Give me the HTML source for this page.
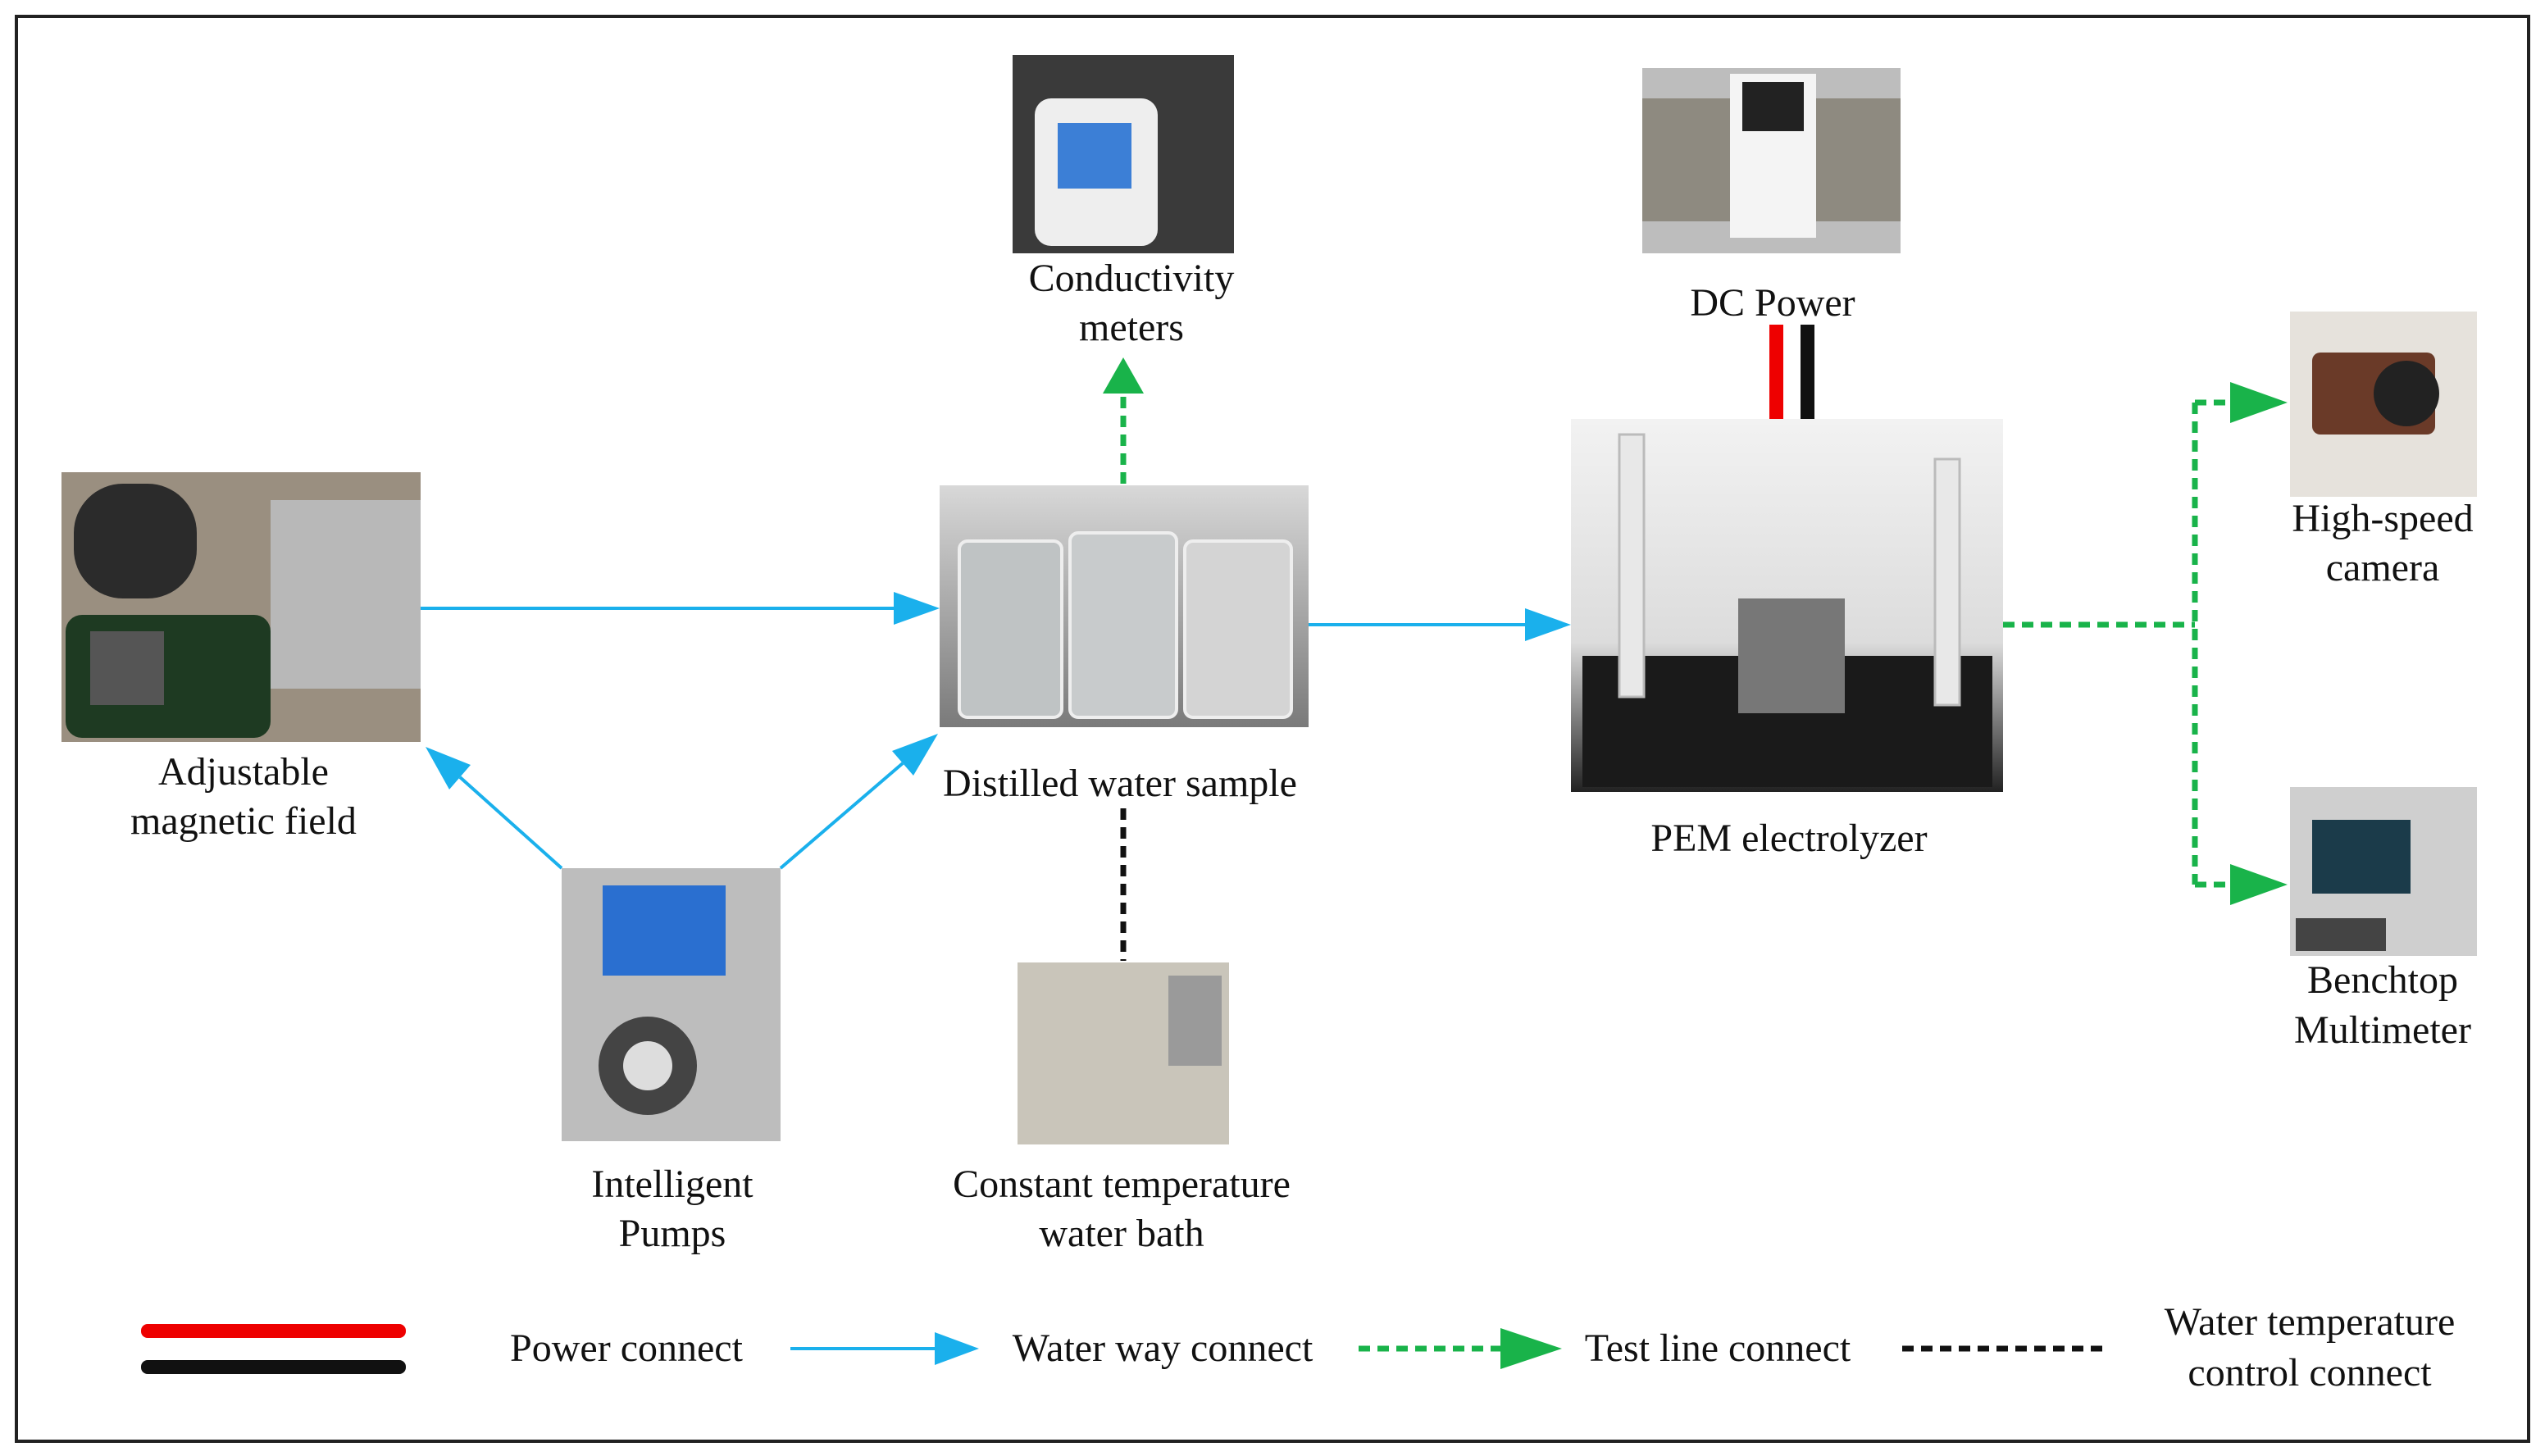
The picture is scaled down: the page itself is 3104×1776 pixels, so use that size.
<!DOCTYPE html>
<html><head><meta charset="utf-8"><style>
html,body{margin:0;padding:0;background:#fff;}
svg{display:block;}
text{font-family:"Liberation Serif",serif;font-size:48px;fill:#111;text-anchor:middle;}
</style></head><body>
<svg width="3104" height="1776" viewBox="0 0 3104 1776" xmlns="http://www.w3.org/2000/svg">
<defs>
<linearGradient id="g1" x1="0" y1="0" x2="0" y2="1"><stop offset="0" stop-color="#d8d8d8"/><stop offset="1" stop-color="#7a7a7a"/></linearGradient>
<linearGradient id="g2" x1="0" y1="0" x2="0" y2="1"><stop offset="0" stop-color="#f2f2f2"/><stop offset="0.6" stop-color="#dcdcdc"/><stop offset="1" stop-color="#222"/></linearGradient>
</defs>
<rect x="20" y="20" width="3064" height="1738" fill="none" stroke="#222" stroke-width="4"/>

<!-- Conductivity -->
<rect x="1235" y="67" width="270" height="242" fill="#3a3a3a"/>
<rect x="1262" y="120" width="150" height="180" rx="20" fill="#eee"/>
<rect x="1290" y="150" width="90" height="80" fill="#3c7fd6"/>
<text x="1380" y="355">Conductivity</text><text x="1380" y="415">meters</text>

<!-- DC power -->
<rect x="2003" y="83" width="315" height="226" fill="#bdbdbd"/>
<rect x="2003" y="120" width="110" height="150" fill="#8e8a80"/>
<rect x="2210" y="120" width="108" height="150" fill="#8e8a80"/>
<rect x="2110" y="90" width="105" height="200" fill="#f4f4f4"/>
<rect x="2125" y="100" width="75" height="60" fill="#222"/>
<text x="2162" y="385">DC Power</text>
<rect x="2158" y="396" width="17" height="123" fill="#ee0000"/>
<rect x="2196" y="396" width="17" height="123" fill="#111"/>

<!-- PEM -->
<rect x="1916" y="511" width="527" height="455" fill="url(#g2)"/>
<rect x="1930" y="800" width="500" height="160" fill="#1a1a1a"/>
<rect x="2120" y="730" width="130" height="140" fill="#777"/>
<rect x="1975" y="530" width="30" height="320" fill="#e8e8e8" stroke="#bbb" stroke-width="3"/>
<rect x="2360" y="560" width="30" height="300" fill="#e8e8e8" stroke="#bbb" stroke-width="3"/>
<text x="2182" y="1038">PEM electrolyzer</text>

<!-- Magnetic field -->
<rect x="75" y="576" width="438" height="329" fill="#9a8f80"/>
<rect x="330" y="610" width="183" height="230" fill="#b8b8b8"/>
<rect x="80" y="750" width="250" height="150" rx="20" fill="#1e3a22"/>
<rect x="110" y="770" width="90" height="90" fill="#555"/>
<rect x="90" y="590" width="150" height="140" rx="60" fill="#2b2b2b"/>
<text x="297" y="957">Adjustable</text><text x="297" y="1017">magnetic field</text>

<!-- Distilled water -->
<rect x="1146" y="592" width="450" height="295" fill="url(#g1)"/>
<rect x="1170" y="660" width="125" height="215" rx="10" fill="#bfc3c4" stroke="#eee" stroke-width="4"/>
<rect x="1305" y="650" width="130" height="225" rx="10" fill="#c8cbcc" stroke="#eee" stroke-width="4"/>
<rect x="1445" y="660" width="130" height="215" rx="10" fill="#d4d4d4" stroke="#eee" stroke-width="4"/>
<text x="1366" y="971">Distilled water sample</text>

<!-- Pump -->
<rect x="685" y="1059" width="267" height="333" fill="#bdbdbd"/>
<rect x="735" y="1080" width="150" height="110" fill="#2a6fd0"/>
<circle cx="790" cy="1300" r="60" fill="#444"/>
<circle cx="790" cy="1300" r="30" fill="#ddd"/>
<text x="820" y="1460">Intelligent</text><text x="820" y="1520">Pumps</text>

<!-- Water bath -->
<rect x="1241" y="1174" width="258" height="222" fill="#c9c5ba"/>
<rect x="1425" y="1190" width="65" height="110" fill="#9a9a9a"/>
<text x="1368" y="1460">Constant temperature</text><text x="1368" y="1520">water bath</text>

<!-- Camera -->
<rect x="2793" y="380" width="228" height="226" fill="#e6e2dc"/>
<rect x="2820" y="430" width="150" height="100" rx="10" fill="#6a3a28"/>
<circle cx="2935" cy="480" r="40" fill="#222"/>
<text x="2906" y="648">High-speed</text><text x="2906" y="708">camera</text>

<!-- Multimeter -->
<rect x="2793" y="960" width="228" height="206" fill="#cfcfcf"/>
<rect x="2820" y="1000" width="120" height="90" fill="#1b3b4a"/>
<rect x="2800" y="1120" width="110" height="40" fill="#444"/>
<text x="2906" y="1211">Benchtop</text><text x="2906" y="1272">Multimeter</text>

<!-- Blue arrows -->
<g stroke="#1ab0ec" stroke-width="4" fill="none">
<line x1="513" y1="742" x2="1100" y2="742"/>
<line x1="1596" y1="762" x2="1870" y2="762"/>
<line x1="685" y1="1059" x2="561" y2="948"/>
<line x1="952" y1="1059" x2="1101" y2="931"/>
</g>

<!-- Green dashed -->
<g stroke="#19b34a" stroke-width="7" fill="none" stroke-dasharray="14,9">
<line x1="1370" y1="590" x2="1370" y2="470"/>
<line x1="2443" y1="762" x2="2677" y2="762"/>
<line x1="2677" y1="491" x2="2677" y2="1079"/>
<line x1="2677" y1="491" x2="2730" y2="491"/>
<line x1="2677" y1="1079" x2="2730" y2="1079"/>
<line x1="1657" y1="1645" x2="1830" y2="1645"/>
</g>
<g fill="#19b34a">
<path d="M1345,480 L1370,436 L1395,480 z"/>
<path d="M2720,466 L2790,491 L2720,516 z"/>
<path d="M2720,1054 L2790,1079 L2720,1104 z"/>
<path d="M1830,1620 L1905,1645 L1830,1670 z"/>
</g>
<g fill="#1ab0ec">
<path d="M1090,722 L1146,742 L1090,762 z"/>
<path d="M1860,742 L1916,762 L1860,782 z"/>
<path d="M1140,1625 L1194,1645 L1140,1665 z"/>
<path d="M519,911 L574,933 L548,963 z"/>
<path d="M1144,895 L1114,946 L1088,916 z"/>
</g>
<!-- Black dashed -->
<g stroke="#111" stroke-width="7" stroke-dasharray="14,9">
<line x1="1370" y1="986" x2="1370" y2="1172"/>
<line x1="2320" y1="1645" x2="2568" y2="1645"/>
</g>

<!-- Legend -->
<rect x="172" y="1615" width="323" height="17" rx="8" fill="#ee0000"/>
<rect x="172" y="1659" width="323" height="17" rx="8" fill="#111"/>
<text x="764" y="1660">Power connect</text>
<line x1="964" y1="1645" x2="1150" y2="1645" stroke="#1ab0ec" stroke-width="4"/>
<text x="1418" y="1660">Water way connect</text>
<text x="2095" y="1660">Test line connect</text>
<text x="2817" y="1628">Water temperature</text><text x="2817" y="1690">control connect</text>
</svg>
</body></html>
